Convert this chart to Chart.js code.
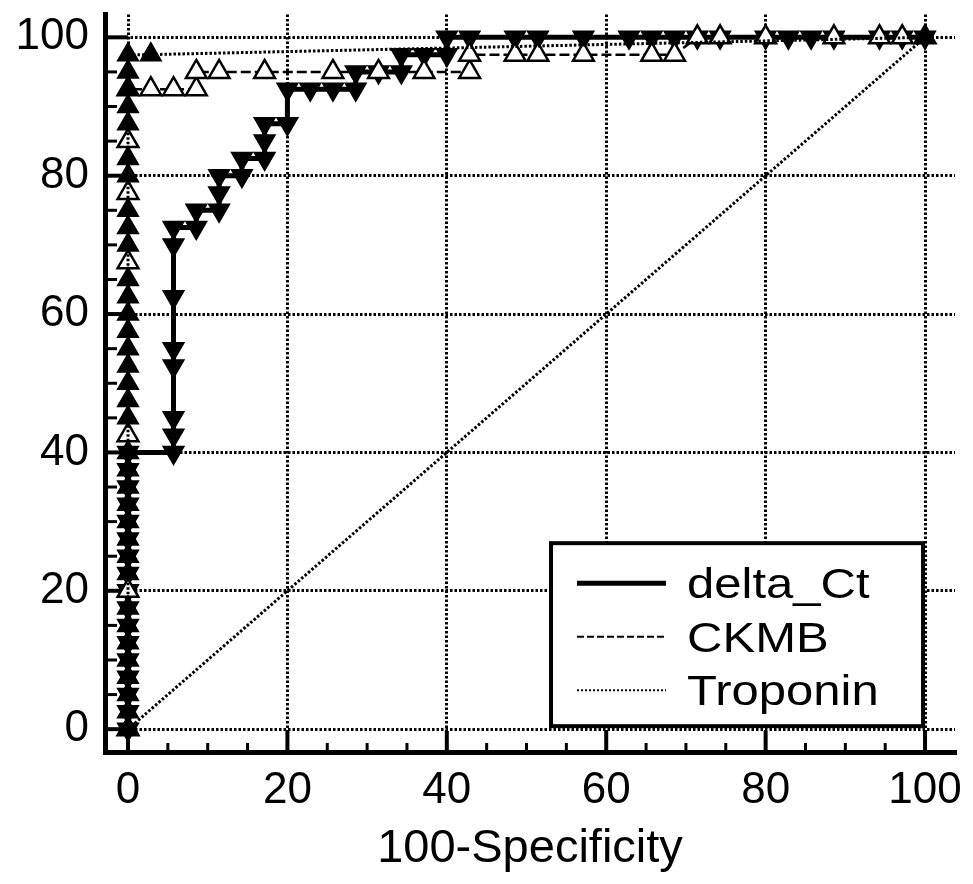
<!DOCTYPE html>
<html>
<head>
<meta charset="utf-8">
<script src="https://cdn.jsdelivr.net/npm/chart.js@4.4.1/dist/chart.umd.min.js"></script>
<style>
  html, body { margin: 0; padding: 0; background: #fff; }
  #wrap { width: 973px; height: 884px; }
</style>
</head>
<body>
<div id="wrap"><canvas id="roc" width="973" height="884"></canvas></div>
<script>
// ROC curves, values (x = 100-Specificity, y = Sensitivity)
const TICK_VALUES = [0, 20, 40, 60, 80, 100];
const MINOR_TICKS = [0, 5, 10, 15, 20, 25, 30, 35, 40, 45, 50, 55, 60, 65, 70, 75, 80, 85, 90, 95, 100];

const DELTA_X = [0, 0, 0, 0, 0, 0, 0, 0, 0, 0, 0, 0, 0, 0, 0, 0, 0,
  5.71, 5.71, 5.71, 5.71, 5.71, 5.71, 5.71, 5.71,
  8.57, 8.57, 11.43, 11.43, 11.43, 14.29, 14.29, 17.14, 17.14, 17.14, 20, 20,
  22.86, 25.71, 28.57, 28.57, 31.43, 34.29, 34.29, 37.14, 40, 40,
  42.86, 48.57, 51.43, 57.14, 62.86, 65.71, 68.57, 71.43, 74.29, 80, 82.86, 85.71, 88.57, 94.29, 97.14, 100];
const DELTA_Y = [0, 2.5, 5, 7.5, 10, 12.5, 15, 17.5, 20, 22.5, 25, 27.5, 30, 32.5, 35, 37.5, 40,
  40, 42.5, 45, 52.5, 55, 62.5, 70, 72.5,
  72.5, 75, 75, 77.5, 80, 80, 82.5, 82.5, 85, 87.5, 87.5, 92.5,
  92.5, 92.5, 92.5, 95, 95, 95, 97.5, 97.5, 97.5, 100,
  100, 100, 100, 100, 100, 100, 100, 100, 100, 100, 100, 100, 100, 100, 100, 100];

const CKMB_X = [0, 0, 0, 0, 0, 0, 0, 2.86, 5.71, 8.57, 8.57,
  11.43, 17.14, 25.71, 31.43, 37.14, 42.86, 42.86,
  48.57, 51.43, 57.14, 65.71, 68.57,
  71.43, 74.29, 80, 88.57, 94.29, 97.14, 100];
const CKMB_Y = [0, 20, 42.5, 67.5, 77.5, 85, 92.5, 92.5, 92.5, 92.5, 95,
  95, 95, 95, 95, 95, 95, 97.5,
  97.5, 97.5, 97.5, 97.5, 97.5,
  100, 100, 100, 100, 100, 100, 100];

const TROP_X = [0, 0, 0, 0, 0, 0, 0, 0, 0, 0, 0, 0, 0, 0, 0, 0, 0, 0,
  0, 0, 0, 0, 0, 0, 0, 0, 0, 0, 0, 0, 0, 0, 0, 0, 0, 2.86, 100];
const TROP_Y = [0, 2.5, 5, 7.5, 10, 12.5, 15, 17.5, 22.5, 25, 27.5, 30, 32.5, 35, 37.5, 40,
  45, 47.5, 50, 52.5, 55, 57.5, 60, 62.5, 65, 70, 72.5, 75, 80, 82.5,
  87.5, 90, 92.5, 95, 97.5, 97.5, 100];

const REF_X = [0, 100];
const REF_Y = [0, 100];

const FONT = '"Liberation Sans", Arial, sans-serif';

function pts(xs, ys) {
  return xs.map((x, i) => ({ x: x, y: ys[i] }));
}

// inward tick marks like the original axes
const innerTicks = {
  id: 'innerTicks',
  beforeDatasetsDraw(chart) {
    const { ctx, chartArea, scales } = chart;
    ctx.save();
    ctx.strokeStyle = '#000';
    MINOR_TICKS.forEach(v => {
      const major = TICK_VALUES.includes(v);
      ctx.lineWidth = major ? 4 : 3;
      const px = scales.x.getPixelForValue(v);
      ctx.beginPath();
      ctx.moveTo(px, chartArea.bottom);
      ctx.lineTo(px, chartArea.bottom - (major ? 21 : 9));
      ctx.stroke();
      const py = scales.y.getPixelForValue(v);
      ctx.beginPath();
      ctx.moveTo(chartArea.left, py);
      ctx.lineTo(chartArea.left + (major ? 23 : 12), py);
      ctx.stroke();
    });
    ctx.restore();
  }
};

// boxed legend in the lower right corner of the plot
const boxLegend = {
  id: 'boxLegend',
  afterDatasetsDraw(chart) {
    const { ctx, scales } = chart;
    const right = scales.x.getPixelForValue(100) - 2;
    const bottom = scales.y.getPixelForValue(0) - 3;
    const w = 372, h = 183;
    const left = right - w, top = bottom - h;
    ctx.save();
    ctx.fillStyle = '#fff';
    ctx.fillRect(left, top, w, h);
    ctx.lineWidth = 4;
    ctx.strokeStyle = '#000';
    ctx.strokeRect(left, top, w, h);
    const items = chart.data.datasets.filter(d => d.inLegend);
    items.forEach((ds, i) => {
      const rowY = top + 40 + i * 53.5;
      ctx.save();
      ctx.lineWidth = ds.legendWidth;
      ctx.setLineDash(ds.legendDash);
      ctx.beginPath();
      ctx.moveTo(left + 26, rowY);
      ctx.lineTo(left + 115, rowY);
      ctx.stroke();
      ctx.restore();
      ctx.save();
      ctx.fillStyle = '#000';
      ctx.font = '43px ' + FONT;
      ctx.textBaseline = 'alphabetic';
      ctx.translate(left + 136, rowY + 15);
      ctx.scale(1.14, 1);
      ctx.fillText(ds.label, 0, 0);
      ctx.restore();
    });
    ctx.restore();
  }
};

new Chart(document.getElementById('roc'), {
  type: 'scatter',
  data: {
    datasets: [{
      label: 'delta_Ct',
      inLegend: true,
      legendWidth: 5,
      legendDash: [],
      data: pts(DELTA_X, DELTA_Y),
      showLine: true,
      borderColor: '#000',
      borderWidth: 5,
      pointStyle: 'triangle',
      pointRotation: 180,
      pointRadius: 12,
      pointBackgroundColor: '#000',
      pointBorderColor: '#000',
      pointBorderWidth: 1.5,
      order: 3
    }, {
      label: 'CKMB',
      inLegend: true,
      legendWidth: 2,
      legendDash: [7, 3],
      data: pts(CKMB_X, CKMB_Y),
      showLine: true,
      borderColor: '#000',
      borderWidth: 2.5,
      borderDash: [10, 4],
      pointStyle: 'triangle',
      pointRadius: 12,
      pointBackgroundColor: '#fff',
      pointBorderColor: '#000',
      pointBorderWidth: 2.5,
      order: 2
    }, {
      label: 'Troponin',
      inLegend: true,
      legendWidth: 2,
      legendDash: [2, 2],
      data: pts(TROP_X, TROP_Y),
      showLine: true,
      borderColor: '#000',
      borderWidth: 3,
      borderDash: [2.5, 2],
      pointStyle: 'triangle',
      pointRadius: 12,
      pointBackgroundColor: '#000',
      pointBorderColor: '#000',
      pointBorderWidth: 1.5,
      order: 1
    }, {
      label: 'reference',
      inLegend: false,
      data: pts(REF_X, REF_Y),
      showLine: true,
      borderColor: '#000',
      borderWidth: 3,
      borderDash: [2.5, 2],
      pointRadius: 0,
      order: 4
    }]
  },
  options: {
    responsive: false,
    animation: false,
    events: [],
    layout: { padding: { top: 9, right: 18, left: 0, bottom: 0 } },
    plugins: {
      legend: { display: false },
      tooltip: { enabled: false }
    },
    scales: {
      x: {
        type: 'linear',
        min: -2.886,
        max: 103.76,
        afterBuildTicks: s => { s.ticks = TICK_VALUES.map(v => ({ value: v })); },
        afterFit: s => { s.height = 132; s.paddingLeft = 0; s.paddingRight = 0; },
        grid: { color: '#000', lineWidth: 3, drawTicks: false },
        border: { display: true, color: '#000', width: 5, dash: [2.5, 2] },
        ticks: { color: '#000', padding: 12, font: { family: FONT, size: 44 } },
        title: {
          display: true,
          text: '100-Specificity',
          color: '#000',
          padding: { top: 0, bottom: 7 },
          font: { family: FONT, size: 47 }
        }
      },
      y: {
        type: 'linear',
        min: -3.3,
        max: 103.3,
        afterBuildTicks: s => { s.ticks = TICK_VALUES.map(v => ({ value: v })); },
        afterFit: s => { s.width = 105; s.paddingTop = 0; s.paddingBottom = 0; },
        grid: { color: '#000', lineWidth: 3, drawTicks: false },
        border: { display: true, color: '#000', width: 5, dash: [2.5, 2] },
        ticks: { color: '#000', padding: 16, font: { family: FONT, size: 44 } }
      }
    }
  },
  plugins: [innerTicks, boxLegend]
});
</script>
</body>
</html>
